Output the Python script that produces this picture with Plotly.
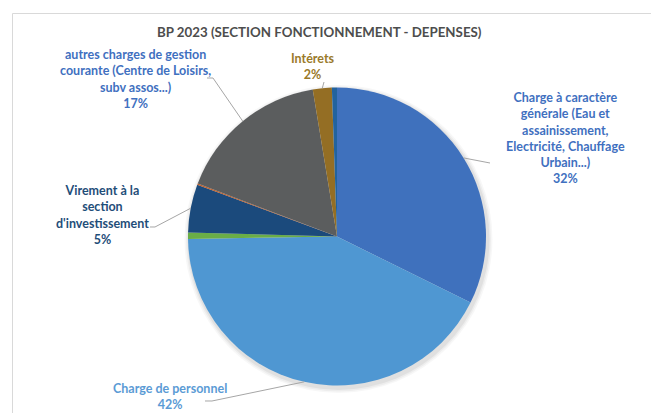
import math
import plotly.graph_objects as go

# ---- data ----
categories = [
    "Charge à caractère générale (Eau et assainissement, Electricité, Chauffage Urbain...)",
    "Charge de personnel",
    "Atténuations de produits",
    "Virement à la section d'investissement",
    "Dépenses imprévues",
    "autres charges de gestion courante (Centre de Loisirs, subv assos...)",
    "Intérets",
    "Charges exceptionnelles",
]
values = [32.3, 42.4, 0.7, 5.2, 0.15, 16.6, 2.05, 0.55]
slice_colors = ["#3F71BD", "#4F97D2", "#6AAE47", "#1B4A7C", "#C0602A", "#5B5D5E", "#946E24", "#23639E"]
label_lines = [
    ["Charge à caractère", "générale (Eau et", "assainissement,", "Electricité, Chauffage", "Urbain...)"],
    ["Charge de personnel"],
    None,
    ["Virement à la", "section", "d'investissement"],
    None,
    ["autres charges de gestion", "courante (Centre de Loisirs,", "subv assos...)"],
    ["Intérets"],
    None,
]
label_colors = ["#3F70C0", "#5B9BD5", None, "#1F4E79", None, "#3F70C0", "#9A7A2A", None]
title_text = "BP 2023 (SECTION FONCTIONNEMENT - DEPENSES)"

# ---- layout geometry (page pixels) ----
OFF = 8                      # default body margin of the html page
W, H = 659 - OFF, 413 - OFF  # figure size
CX, CY, R = 337.0, 236.5, 149.0
label_pos = [(565, 138), (170, 396), None, (102, 215), None, (135, 79), (313, 66), None]
elbows = [[(490, 163)], [(205, 401), (212, 401)], None, [(150, 227), (155, 227)], None,
          [(207, 78), (213, 78)], [(324, 82)], None]

def px(x):
    return (x - OFF) / W

def py(y):
    return 1 - (y - OFF) / H

fig = go.Figure(go.Pie(
    labels=categories,
    values=values,
    sort=False,
    direction="clockwise",
    rotation=0,
    marker=dict(colors=slice_colors, line=dict(width=0)),
    textinfo="none",
    hoverinfo="label+percent",
    domain=dict(x=[px(CX - R), px(CX + R)], y=[py(CY + R), py(CY - R)]),
    showlegend=False,
))

total = sum(values)
cum = 0.0
annotations = []
shapes = []
FONT = "Lato, 'Open Sans', sans-serif"

# soft shadow behind the pie
for grow, alpha in [(5, 0.03), (3.5, 0.04), (2, 0.05)]:
    shapes.append(dict(type="circle", xref="paper", yref="paper", layer="below",
                       x0=px(CX - R + 1.5 - grow), x1=px(CX + R + 1.5 + grow),
                       y0=py(CY + R + 2.5 + grow), y1=py(CY - R + 2.5 - grow),
                       line=dict(width=0), fillcolor=f"rgba(0,0,0,{alpha})"))

for i, v in enumerate(values):
    mid = (cum + v / 2) / total * 2 * math.pi
    cum += v
    if label_lines[i] is None:
        continue
    pct = round(v / total * 100)
    text = "<b>" + "<br>".join(label_lines[i] + [f"{pct}%"]) + "</b>"
    lx, ly = label_pos[i]
    annotations.append(dict(
        x=px(lx), y=py(ly), xref="paper", yref="paper", text=text, showarrow=False,
        xanchor="center", yanchor="middle", align="center",
        font=dict(family=FONT, size=12.5, color=label_colors[i]),
    ))
    ex = CX + R * math.sin(mid)
    ey = CY - R * math.cos(mid)
    pts = elbows[i] + [(ex, ey)]
    path = "M " + " L ".join(f"{px(x):.5f},{py(y):.5f}" for x, y in pts)
    shapes.append(dict(type="path", path=path, xref="paper", yref="paper",
                       line=dict(color="#A6A6A6", width=1)))

shapes.append(dict(type="rect", xref="paper", yref="paper",
                   x0=px(12.5), x1=px(657.5), y0=py(430), y1=py(13.5),
                   line=dict(color="#D9D9D9", width=1), fillcolor="rgba(0,0,0,0)", layer="below"))

annotations.append(dict(
    x=px(319), y=py(32), xref="paper", yref="paper", text=f"<b>{title_text}</b>", showarrow=False,
    xanchor="center", yanchor="middle",
    font=dict(family=FONT, size=13.3, color="#4D4D4D"),
))

fig.update_layout(
    width=W, height=H,
    margin=dict(l=0, r=0, t=0, b=0),
    paper_bgcolor="white",
    plot_bgcolor="white",
    annotations=annotations,
    shapes=shapes,
)

fig.write_html("out.html")
